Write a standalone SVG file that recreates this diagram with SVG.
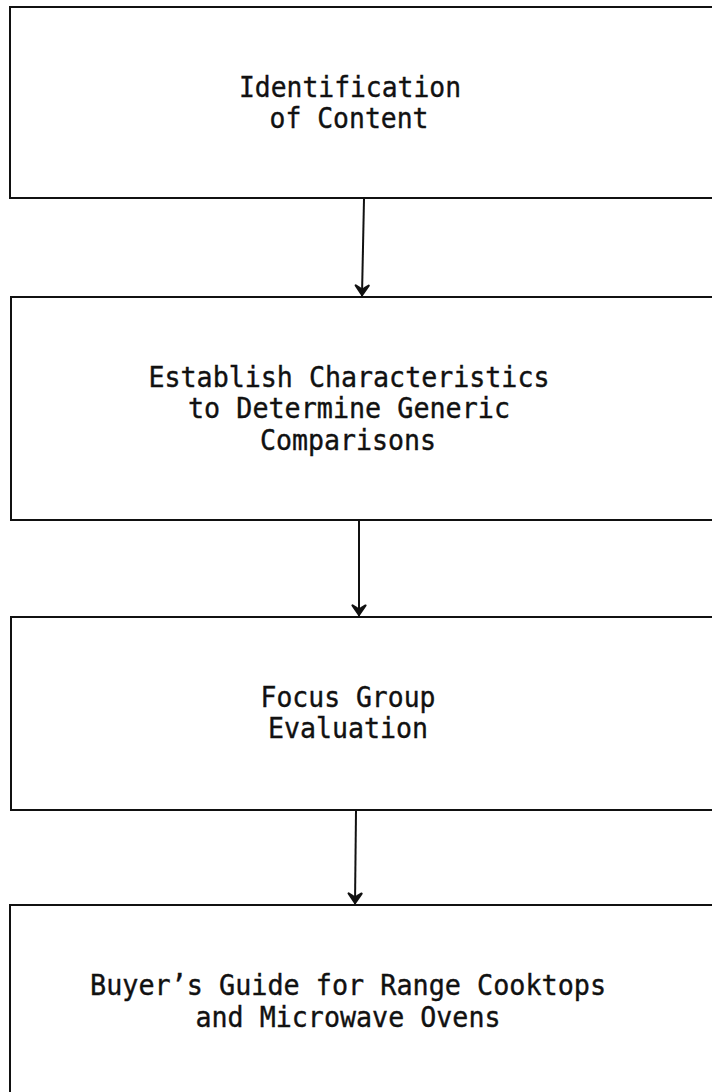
<svg xmlns="http://www.w3.org/2000/svg" width="712" height="1092" viewBox="0 0 712 1092">
  <style>
    .box { fill: none; stroke: #111; stroke-width: 2; }
    .lbl { font-family: "DejaVu Sans Mono", "Liberation Mono", monospace; font-size: 29px; fill: #111; stroke: #111; stroke-width: 0.4; text-anchor: middle; }
    .conn { stroke: #111; stroke-width: 2; fill: none; }
  </style>
  <defs>
    <marker id="ah" viewBox="-13 -9 14 18" markerWidth="14" markerHeight="18" refX="0" refY="0" orient="auto" markerUnits="userSpaceOnUse">
      <path d="M-1,0 L-10.5,-6.5 Q-8,-2 -6,0 Q-8,2 -10.5,6.5 Z" fill="#111" stroke="#111" stroke-width="2.2" stroke-linejoin="round"/>
    </marker>
  </defs>
  <rect width="712" height="1092" fill="#fff"/>

  <g id="node1">
    <path class="box" d="M714,7 L10,7 L10,198 L714,198"/>
    <text class="lbl" x="350" y="97" textLength="222" lengthAdjust="spacingAndGlyphs">Identification</text>
    <text class="lbl" x="349" y="128" textLength="159" lengthAdjust="spacingAndGlyphs">of Content</text>
  </g>

  <g id="node2">
    <path class="box" d="M714,297 L11,297 L11,520 L714,520"/>
    <text class="lbl" x="349" y="387" textLength="401" lengthAdjust="spacingAndGlyphs">Establish Characteristics</text>
    <text class="lbl" x="349" y="418" textLength="322" lengthAdjust="spacingAndGlyphs">to Determine Generic</text>
    <text class="lbl" x="348" y="450" textLength="176" lengthAdjust="spacingAndGlyphs">Comparisons</text>
  </g>

  <g id="node3">
    <path class="box" d="M714,617 L11,617 L11,810 L714,810"/>
    <text class="lbl" x="348" y="707" textLength="175" lengthAdjust="spacingAndGlyphs">Focus Group</text>
    <text class="lbl" x="348" y="738" textLength="160" lengthAdjust="spacingAndGlyphs">Evaluation</text>
  </g>

  <g id="node4">
    <path class="box" d="M714,905 L10,905 L10,1094"/>
    <text class="lbl" x="348" y="995" textLength="516" lengthAdjust="spacingAndGlyphs">Buyer’s Guide for Range Cooktops</text>
    <text class="lbl" x="348" y="1027" textLength="305" lengthAdjust="spacingAndGlyphs">and Microwave Ovens</text>
  </g>

  <g id="connectors">
    <path class="conn" d="M364,199 L362,296" marker-end="url(#ah)"/>
    <path class="conn" d="M359,521 L359,616" marker-end="url(#ah)"/>
    <path class="conn" d="M356,811 L355,904" marker-end="url(#ah)"/>
  </g>
</svg>
